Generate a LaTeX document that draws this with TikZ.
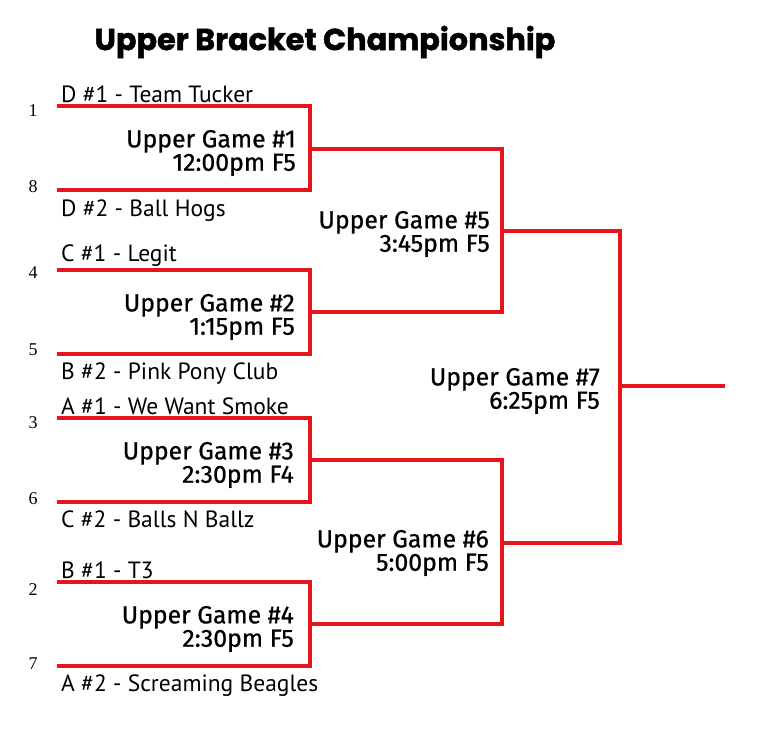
\documentclass[tikz,border=0pt]{standalone}
\usepackage{fontspec}
\usepackage{xcolor}
\usepackage{tikz}
\usetikzlibrary{positioning,calc}
\setmainfont{Liberation Serif}
\newfontfamily\titlefont{Poppins}[FakeBold=1.5]
\newfontfamily\teamfont{PT Sans}
\newfontfamily\gamefont{Fira Sans}[FakeBold=0.7]
\definecolor{bracketred}{RGB}{230,20,27}
\tikzset{
    bline/.style={draw=bracketred, line width=3.6pt},
    team/.style={font=\teamfont\fontsize{23.5}{26}\selectfont, inner sep=1pt},
    seed/.style={font=\fontsize{18}{20}\selectfont, inner sep=0pt},
    game/.style={font=\gamefont\fontsize{24.8}{21.5}\selectfont, align=right, anchor=east, inner sep=0pt}
}

\begin{document}
\begin{tikzpicture}[x=1pt,y=-1pt]
            \useasboundingbox (0,0) rectangle (768,739);

            % Title
            \node[font=\titlefont\bfseries\fontsize{30.3}{32}\selectfont] (title) at (325,42) {Upper Bracket Championship};

            % Line ends of the first round
            \coordinate (t1) at (57,106);
            \coordinate (t8) at (57,190);
            \coordinate (t4) at (57,270);
            \coordinate (t5) at (57,354);
            \coordinate (t3) at (57,418);
            \coordinate (t6) at (57,502);
            \coordinate (t2) at (57,582);
            \coordinate (t7) at (57,666);

            % Game junctions
            \coordinate (g1) at (310,149);
            \coordinate (g2) at (310,312);
            \coordinate (g3) at (310,460);
            \coordinate (g4) at (310,624);
            \coordinate (g5) at (502,231);
            \coordinate (g6) at (502,543);
            \coordinate (g7) at (620,386);
            \coordinate (champ) at (725,386);

            % Draw the brackets
            \draw[bline] (t1) -| (g1) |- (t8);
            \draw[bline] (t4) -| (g2) |- (t5);
            \draw[bline] (t3) -| (g3) |- (t6);
            \draw[bline] (t2) -| (g4) |- (t7);
            \draw[bline] (g1) -| (g5) |- (g2);
            \draw[bline] (g3) -| (g6) |- (g4);
            \draw[bline] (g5) -| (g7) |- (g6);
            \draw[bline] (g7) -- (champ);

            % Team names
            \node[team, anchor=south west] (n1) at ([xshift=3,yshift=2]t1) {D \#1 - Team Tucker};
            \node[team, anchor=north west] (n8) at ([xshift=3,yshift=-9]t8) {D \#2 - Ball Hogs};
            \node[team, anchor=south west] (n4) at ([xshift=3,yshift=2]t4) {C \#1 - Legit};
            \node[team, anchor=north west] (n5) at ([xshift=3,yshift=-8]t5) {B \#2 - Pink Pony Club};
            \node[team, anchor=south west] (n3) at ([xshift=3,yshift=2]t3) {A \#1 - We Want Smoke};
            \node[team, anchor=north west] (n6) at ([xshift=3,yshift=-8]t6) {C \#2 - Balls N Ballz};
            \node[team, anchor=south west] (n2) at ([xshift=3,yshift=2]t2) {B \#1 - T3};
            \node[team, anchor=north west] (n7) at ([xshift=3,yshift=-8]t7) {A \#2 - Screaming Beagles};

            % Seeds
            \node[seed] (s1) at (33,111) {1};
            \node[seed] (s8) at (33,187) {8};
            \node[seed] (s4) at (33,273) {4};
            \node[seed] (s5) at (33,350) {5};
            \node[seed] (s3) at (33,423) {3};
            \node[seed] (s6) at (33,499) {6};
            \node[seed] (s2) at (33,590) {2};
            \node[seed] (s7) at (33,664) {7};

            % Game labels
            \node[game] (l1) at ([xshift=-14,yshift=-4]g1) {Upper Game \#1\\12:00pm F5};
            \node[game] (l2) at ([xshift=-15,yshift=-5]g2) {Upper Game \#2\\1:15pm F5};
            \node[game] (l3) at ([xshift=-16,yshift=-5]g3) {Upper Game \#3\\2:30pm F4};
            \node[game] (l4) at ([xshift=-16,yshift=-5]g4) {Upper Game \#4\\2:30pm F5};
            \node[game] (l5) at ([xshift=-12,yshift=-3]g5) {Upper Game \#5\\3:45pm F5};
            \node[game] (l6) at ([xshift=-13,yshift=-10]g6) {Upper Game \#6\\5:00pm F5};
            \node[game] (l7) at ([xshift=-20,yshift=-5]g7) {Upper Game \#7\\6:25pm F5};
\end{tikzpicture}
\end{document}
